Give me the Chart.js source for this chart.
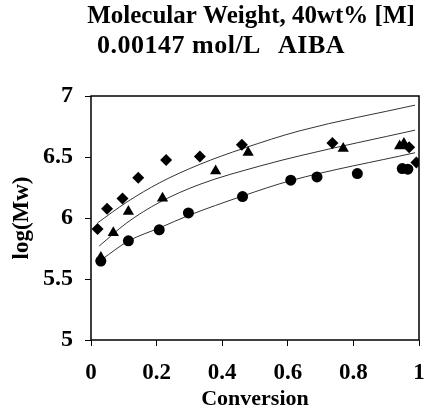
<!DOCTYPE html>
<html>
<head>
<meta charset="utf-8">
<script src="https://cdn.jsdelivr.net/npm/chart.js@4"></script>
<style>
    html, body { margin: 0; padding: 0; background: #fff; }
    #wrap { width: 428px; height: 410px; }
</style>
</head>
<body>
<div id="wrap"><canvas id="mw-chart" width="428" height="410"></canvas></div>
<script>
// measured points (conversion, log Mw)
const diamondConv = [0.020, 0.049, 0.096, 0.144, 0.229, 0.332, 0.460, 0.736, 0.970, 0.992];
const diamondLogMw = [5.91, 6.075, 6.16, 6.33, 6.475, 6.505, 6.60, 6.615, 6.58, 6.455];

const triangleConv = [0.030, 0.068, 0.114, 0.218, 0.380, 0.479, 0.769, 0.941, 0.954];
const triangleLogMw = [5.677, 5.88, 6.053, 6.162, 6.386, 6.536, 6.569, 6.591, 6.610];

const circleConv = [0.030, 0.114, 0.208, 0.297, 0.462, 0.609, 0.689, 0.812, 0.949, 0.966];
const circleLogMw = [5.647, 5.813, 5.903, 6.042, 6.176, 6.310, 6.337, 6.364, 6.405, 6.400];

// model curves
const upperCurveConv = [0.020, 0.109, 0.210, 0.332, 0.464, 0.637, 0.988];
const upperCurveLogMw = [5.96, 6.13, 6.29, 6.44, 6.57, 6.715, 6.925];

const middleCurveConv = [0.025, 0.109, 0.210, 0.332, 0.515, 0.637, 0.988];
const middleCurveLogMw = [5.77, 5.96, 6.13, 6.276, 6.426, 6.51, 6.72];

const lowerCurveConv = [0.033, 0.114, 0.210, 0.297, 0.462, 0.607, 0.988];
const lowerCurveLogMw = [5.661, 5.811, 5.92, 6.02, 6.18, 6.305, 6.535];

const xTicks = [0, 0.2, 0.4, 0.6, 0.8, 1];
const yTicks = [5, 5.5, 6, 6.5, 7];

const titleLine1 = 'Molecular Weight, 40wt% [M]';
const titleLine2 = ['0.00147 mol/L', 'AIBA'];

const serif = '"Liberation Serif", "Times New Roman", serif';

function pairs(xs, ys) {
    return xs.map((x, i) => ({ x: x, y: ys[i] }));
}

function curve(xs, ys) {
    return {
        data: pairs(xs, ys),
        showLine: true,
        borderColor: '#333',
        borderWidth: 1,
        pointRadius: 0,
        cubicInterpolationMode: 'monotone',
        order: 2
    };
}

function markers(xs, ys, style, radius) {
    return {
        data: pairs(xs, ys),
        pointStyle: style,
        pointRadius: radius,
        backgroundColor: '#000',
        borderColor: '#000',
        borderWidth: 0,
        order: 1
    };
}

// frame round the plot plus the two title lines
const framePlugin = {
    id: 'frame',
    afterDraw(chart) {
        const { ctx, chartArea: a } = chart;
        ctx.save();
        ctx.strokeStyle = '#000';
        ctx.lineWidth = 1.5;
        ctx.strokeRect(a.left, a.top, a.right - a.left, a.bottom - a.top);

        ctx.fillStyle = '#000';
        ctx.font = 'bold 25px ' + serif;
        ctx.textBaseline = 'alphabetic';
        ctx.textAlign = 'center';
        ctx.fillText(titleLine1, 251, 23);
        ctx.textAlign = 'left';
        ctx.font = 'bold 26px ' + serif;
        ctx.letterSpacing = '0.5px';
        ctx.fillText(titleLine2[0], 97, 53);
        ctx.fillText(titleLine2[1], 278, 53);
        ctx.restore();
    }
};

new Chart(document.getElementById('mw-chart').getContext('2d'), {
    type: 'scatter',
    data: {
        datasets: [
            curve(upperCurveConv, upperCurveLogMw),
            curve(middleCurveConv, middleCurveLogMw),
            curve(lowerCurveConv, lowerCurveLogMw),
            markers(diamondConv, diamondLogMw, 'rectRot', 6),
            markers(triangleConv, triangleLogMw, 'triangle', 6.5),
            markers(circleConv, circleLogMw, 'circle', 5.5)
        ]
    },
    options: {
        responsive: false,
        animation: false,
        layout: { padding: { left: 0, right: 9, top: 96, bottom: 0 } },
        plugins: {
            legend: { display: false },
            tooltip: { enabled: false }
        },
        scales: {
            x: {
                type: 'linear',
                min: 0,
                max: 1,
                afterBuildTicks: scale => { scale.ticks = xTicks.map(v => ({ value: v })); },
                afterFit: scale => {
                    scale.height = 70;
                    scale.paddingLeft = 0;
                    scale.paddingRight = 0;
                },
                grid: { drawOnChartArea: false, drawTicks: true, tickLength: 6, color: '#000', lineWidth: 1 },
                border: { display: false },
                ticks: {
                    color: '#000',
                    padding: 13,
                    maxRotation: 0,
                    font: { family: serif, size: 23, weight: 'bold' },
                    callback: v => String(v)
                },
                title: {
                    display: true,
                    text: 'Conversion',
                    color: '#000',
                    font: { family: serif, size: 22, weight: 'bold', lineHeight: 1 },
                    padding: { top: 0, bottom: 0 }
                }
            },
            y: {
                type: 'linear',
                min: 5,
                max: 7,
                afterBuildTicks: scale => { scale.ticks = yTicks.map(v => ({ value: v })); },
                afterFit: scale => {
                    scale.width = 91;
                    scale.paddingTop = 0;
                    scale.paddingBottom = 0;
                },
                grid: { drawOnChartArea: false, drawTicks: true, tickLength: 6, color: '#000', lineWidth: 1 },
                border: { display: false },
                ticks: {
                    color: '#000',
                    padding: 12,
                    font: { family: serif, size: 24, weight: 'bold' },
                    callback: v => String(v)
                },
                title: {
                    display: true,
                    text: 'log(Mw)',
                    color: '#000',
                    font: { family: serif, size: 23, weight: 'bold', lineHeight: 1 },
                    padding: { top: 11, bottom: 0 }
                }
            }
        }
    },
    plugins: [framePlugin]
});
</script>
</body>
</html>
